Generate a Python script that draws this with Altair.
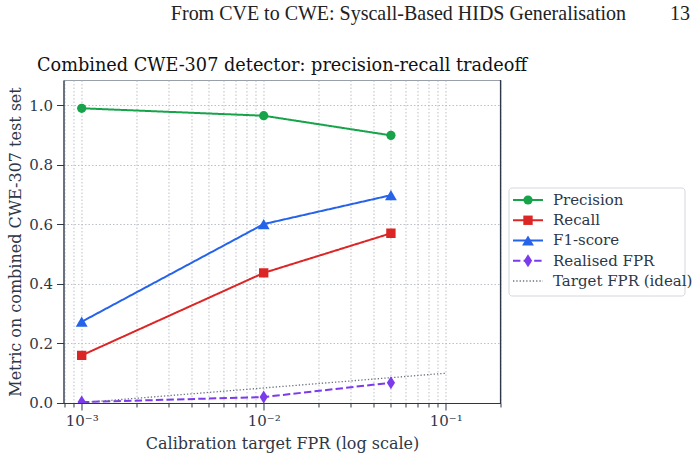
import altair as alt
import pandas as pd

# ---- data -------------------------------------------------------------
series = ["Precision", "Recall", "F1-score", "Realised FPR", "Target FPR (ideal)"]
colors = ["#16a34a", "#dc2626", "#2563eb", "#7c3aed", "#6b7280"]
target_fpr = [0.001, 0.01, 0.05]
precision = [0.990, 0.965, 0.899]
recall = [0.160, 0.437, 0.570]
f1 = [0.273, 0.601, 0.698]
realised = [0.003, 0.020, 0.068]
ideal_x = [0.001, 0.1]
ideal_y = [0.001, 0.1]

x_major = [0.001, 0.01, 0.1]
x_major_labels = ["10⁻³", "10⁻²", "10⁻¹"]
x_minor = [0.0008, 0.0009, 0.002, 0.003, 0.004, 0.005, 0.006, 0.007, 0.008, 0.009,
           0.02, 0.03, 0.04, 0.05, 0.06, 0.07, 0.08, 0.09, 0.2]
y_ticks = [0.0, 0.2, 0.4, 0.6, 0.8, 1.0]

header_text = "From CVE to CWE: Syscall-Based HIDS Generalisation"
page_number = "13"
title_text = "Combined CWE-307 detector: precision-recall tradeoff"

# ---- tables -----------------------------------------------------------
rows = []
for name, vals in zip(series[:4], [precision, recall, f1, realised]):
    for xv, yv in zip(target_fpr, vals):
        rows.append({"series": name, "x": xv, "y": yv})
for xv, yv in zip(ideal_x, ideal_y):
    rows.append({"series": series[4], "x": xv, "y": yv})
df = pd.DataFrame(rows)
legend_df = pd.DataFrame({"series": series})

# ---- style ------------------------------------------------------------
FONT = "DejaVu Serif"
HFONT = "Liberation Serif"
INK = "#2d3748"
W, H = 437, 323

dash_range = [[1, 0], [1, 0], [1, 0], [7.4, 3.2], [1.3, 2]]
width_range = [2, 2, 2, 2, 1.3]
shape_range = ["circle", "square", "triangle-up", "M0,-1L0.62,0L0,1L-0.62,0Z", "circle"]
size_range = [85, 88, 140, 175, 1]

color_enc = alt.Color("series:N", scale=alt.Scale(domain=series, range=colors), legend=None)
dash_enc = alt.StrokeDash("series:N", scale=alt.Scale(type="ordinal", domain=series, range=dash_range), legend=None)
sw_enc = alt.StrokeWidth("series:N", scale=alt.Scale(type="ordinal", domain=series, range=width_range), legend=None)
shape_enc = alt.Shape("series:N", scale=alt.Scale(type="ordinal", domain=series, range=shape_range), legend=None)
size_enc = alt.Size("series:N", scale=alt.Scale(type="ordinal", domain=series, range=size_range), legend=None)

major_test = " || ".join(f"datum.value == {v}" for v in x_major)
label_expr = " : ".join(f"datum.value == {v} ? '{l}'" for v, l in zip(x_major, x_major_labels)) + " : ''"

axis_style = dict(
    labelFont=FONT, titleFont=FONT, labelFontSize=15, titleFontSize=16,
    titleFontWeight="normal", labelColor=INK, titleColor=INK,
)

x_enc = alt.X(
    "x:Q",
    scale=alt.Scale(type="log", domain=[10 ** -3.1, 0.2], nice=False),
    axis=alt.Axis(
        title="Calibration target FPR (log scale)",
        values=sorted(x_major + x_minor),
        labelExpr=label_expr,
        labelOverlap=False,
        labelFlush=False,
        tickSize={"condition": {"test": major_test, "value": 7}, "value": 4},
        labelPadding=4,
        titlePadding=7,
        **axis_style,
    ),
)
y_enc = alt.Y(
    "y:Q",
    scale=alt.Scale(domain=[0, 1.085], nice=False, zero=False),
    axis=alt.Axis(
        title="Metric on combined CWE-307 test set",
        values=y_ticks,
        format=".1f",
        tickSize=7,
        labelPadding=4,
        titlePadding=5,
        **axis_style,
    ),
)

base = alt.Chart(df)
lines = base.mark_line(clip=True).encode(
    x=x_enc, y=y_enc, color=color_enc, strokeDash=dash_enc, strokeWidth=sw_enc
)
points = base.transform_filter(
    alt.datum.series != series[4]
).mark_point(filled=True, opacity=1, clip=True).encode(
    x="x:Q", y="y:Q", color=color_enc, shape=shape_enc, size=size_enc
)
right_spine = alt.Chart(legend_df.head(1)).mark_rule(color=INK, strokeWidth=1.2).encode(
    x=alt.value(W), y=alt.value(0), y2=alt.value(H)
)
main = alt.layer(lines, points, right_spine)

# ---- legend and texts ---------------------------------------------------
leg_y = alt.Y("series:N", sort=series,
              scale=alt.Scale(type="point", domain=series, range=[120, 201], padding=0),
              axis=None)
leg_box = alt.Chart(legend_df.head(1)).mark_rect(
    fill="white", stroke="#d4d7dd", strokeWidth=1, cornerRadius=3
).encode(x=alt.value(445.5), x2=alt.value(621.5), y=alt.value(108), y2=alt.value(216))
leg_lines = alt.Chart(legend_df).mark_rule().encode(
    x=alt.value(449.5), x2=alt.value(479.5), y=leg_y,
    color=color_enc, strokeDash=dash_enc, strokeWidth=sw_enc
)
leg_pts = alt.Chart(legend_df).transform_filter(
    alt.datum.series != series[4]
).mark_point(filled=True, opacity=1).encode(
    x=alt.value(464.5), y=leg_y, color=color_enc, shape=shape_enc, size=size_enc
)
leg_text = alt.Chart(legend_df).mark_text(
    align="left", baseline="middle", font=FONT, fontSize=15, color=INK
).encode(x=alt.value(489.5), y=leg_y, text="series:N")

header = alt.Chart(pd.DataFrame({"t": [header_text]})).mark_text(
    align="right", baseline="middle", font=HFONT, fontSize=20, color="#222222"
).encode(x=alt.value(562.5), y=alt.value(-66), text="t:N")
page = alt.Chart(pd.DataFrame({"t": [page_number]})).mark_text(
    align="right", baseline="middle", font=HFONT, fontSize=20, color="#222222"
).encode(x=alt.value(626.5), y=alt.value(-66), text="t:N")
title = alt.Chart(pd.DataFrame({"t": [title_text]})).mark_text(
    align="center", baseline="alphabetic", font=FONT, fontSize=17.7, color="#111111"
).encode(x=alt.value(W / 2), y=alt.value(-9), text="t:N")

legend = alt.layer(leg_box, leg_lines, leg_pts, leg_text, header, page, title)

chart = alt.layer(main, legend).resolve_scale(y="independent").properties(
    width=W,
    height=H,
    autosize="none",
    padding={"left": 63.5, "top": 80, "right": 196.3, "bottom": 58},
).configure(
    font=FONT,
    background="white",
).configure_view(
    stroke="#9aa0aa", strokeWidth=1
).configure_axis(
    domainColor=INK,
    domainWidth=1.2,
    tickColor=INK,
    tickWidth=1,
    grid=True,
    gridColor="#b4b9c2",
    gridDash=[1.5, 2],
    gridWidth=0.9,
)

chart.save("out.html", embed_options={"renderer": "svg", "actions": False})
